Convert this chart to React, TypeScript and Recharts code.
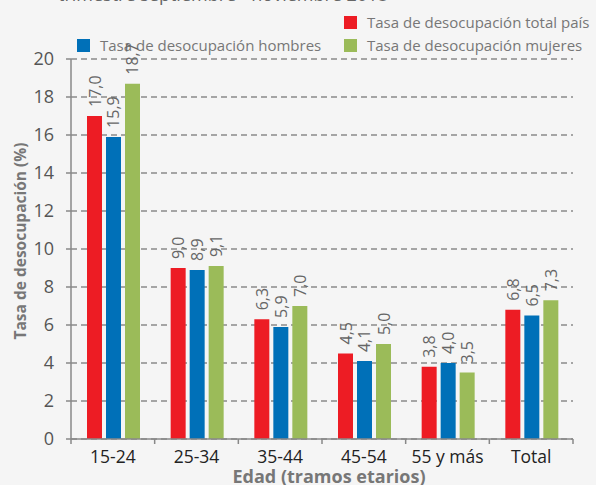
import React from 'react';
import { BarChart, Bar, XAxis, YAxis, CartesianGrid, LabelList } from 'recharts';

const categories = ['15-24', '25-34', '35-44', '45-54', '55 y más', 'Total'];
const totalPais = [17.0, 9.0, 6.3, 4.5, 3.8, 6.8];
const hombres = [15.9, 8.9, 5.9, 4.1, 4.0, 6.5];
const mujeres = [18.7, 9.1, 7.0, 5.0, 3.5, 7.3];
const yTicks = [0, 2, 4, 6, 8, 10, 12, 14, 16, 18, 20];

const nameTotal = 'Tasa de desocupación total país';
const nameHombres = 'Tasa de desocupación hombres';
const nameMujeres = 'Tasa de desocupación mujeres';
const titleText = 'trimestre septiembre - noviembre 2018';
const xLabel = 'Edad (tramos etarios)';
const yLabel = 'Tasa de desocupación (%)';

const RED = '#ed1c24';
const BLUE = '#0070b8';
const GREEN = '#9bbb59';
const FONT = '"Open Sans", "Noto Sans", sans-serif';

const data = categories.map((c, i) => ({
  cat: c,
  total: totalPais[i],
  hombres: hombres[i],
  mujeres: mujeres[i],
}));

const XTick = (props: any) => {
  const { x, y, payload, index } = props;
  const half = payload && payload.offset ? payload.offset : 41.75;
  const isLast = index === categories.length - 1;
  return (
    <g>
      <line x1={x - half} x2={x - half} y1={y} y2={y + 5} stroke="#888" strokeWidth={1.5} />
      {isLast && <line x1={x + half} x2={x + half} y1={y} y2={y + 5} stroke="#888" strokeWidth={1.5} />}
      <text x={x} y={y + 24} textAnchor="middle" fontSize={17.5} fill="#222" fontFamily={FONT}>
        {payload.value}
      </text>
    </g>
  );
};

const BarValueLabel = (props: any) => {
  const { x, y, width, value } = props;
  const cx = Number(x) + Number(width) / 2;
  const ty = Number(y) - 9;
  return (
    <text
      x={cx}
      y={ty}
      transform={`rotate(-90 ${cx} ${ty})`}
      textAnchor="start"
      dominantBaseline="central"
      fontSize={16}
      fill="#666"
      fontFamily={FONT}
    >
      {Number(value).toFixed(1).replace('.', ',')}
    </text>
  );
};

const legendRows = [
  [{ name: nameTotal, color: RED, left: 344 }],
  [
    { name: nameHombres, color: BLUE, left: 77 },
    { name: nameMujeres, color: GREEN, left: 344 },
  ],
];

export default function App() {
  return (
    <div
      style={{
        position: 'absolute',
        left: 0,
        top: 0,
        width: 596,
        height: 485,
        background: '#f5f5f5',
        overflow: 'hidden',
        fontFamily: FONT,
      }}
    >
      <div
        style={{
          position: 'absolute',
          left: 58,
          top: -16,
          fontSize: 18,
          lineHeight: '20px',
          color: '#666',
          whiteSpace: 'nowrap',
        }}
      >
        {titleText}
      </div>
      {legendRows.map((row, ri) =>
        row.map((item) => (
          <div
            key={item.name}
            style={{
              position: 'absolute',
              left: item.left,
              top: 14 + ri * 23,
              display: 'flex',
              alignItems: 'center',
              fontSize: 15,
              lineHeight: '16px',
              color: '#777',
              whiteSpace: 'nowrap',
            }}
          >
            <span style={{ display: 'inline-block', width: 13, height: 13, background: item.color, marginRight: 10 }} />
            <span>{item.name}</span>
          </div>
        ))
      )}
      <BarChart
        width={596}
        height={485}
        data={data}
        margin={{ top: 59, right: 23, bottom: 0, left: 0 }}
        barCategoryGap={16}
        barGap={4}
        style={{ position: 'absolute', left: 0, top: 0 }}
      >
        <CartesianGrid vertical={false} stroke="#8a8a8a" strokeDasharray="6 4" strokeWidth={1.3} />
        <XAxis
          dataKey="cat"
          height={46}
          tickLine={false}
          tickSize={0}
          tickMargin={0}
          axisLine={{ stroke: '#888', strokeWidth: 1.5 }}
          tick={<XTick />}
          interval={0}
          label={(p: any) => {
            const vb = p.viewBox || {};
            return (
              <text
                x={vb.x + vb.width / 2 + 7}
                y={483}
                textAnchor="middle"
                fontSize={18}
                fontWeight="bold"
                fill="#777"
                fontFamily={FONT}
              >
                {xLabel}
              </text>
            );
          }}
        />
        <YAxis
          width={71}
          domain={[0, 20]}
          ticks={yTicks}
          interval={0}
          tickSize={5}
          tickMargin={12}
          tickLine={{ stroke: '#888', strokeWidth: 1.5 }}
          axisLine={{ stroke: '#888', strokeWidth: 1.5 }}
          tick={{ fontSize: 18, fill: '#555', fontFamily: FONT }}
          label={(p: any) => {
            const vb = p.viewBox || {};
            const cy = vb.y + vb.height / 2 - 8;
            return (
              <text
                x={20}
                y={cy}
                transform={`rotate(-90 20 ${cy})`}
                textAnchor="middle"
                dominantBaseline="central"
                fontSize={15.5}
                fontWeight="bold"
                fill="#777"
                fontFamily={FONT}
              >
                {yLabel}
              </text>
            );
          }}
        />
        <Bar dataKey="total" name={nameTotal} fill={RED} isAnimationActive={false}>
          <LabelList dataKey="total" content={<BarValueLabel />} />
        </Bar>
        <Bar dataKey="hombres" name={nameHombres} fill={BLUE} isAnimationActive={false}>
          <LabelList dataKey="hombres" content={<BarValueLabel />} />
        </Bar>
        <Bar dataKey="mujeres" name={nameMujeres} fill={GREEN} isAnimationActive={false}>
          <LabelList dataKey="mujeres" content={<BarValueLabel />} />
        </Bar>
      </BarChart>
    </div>
  );
}
